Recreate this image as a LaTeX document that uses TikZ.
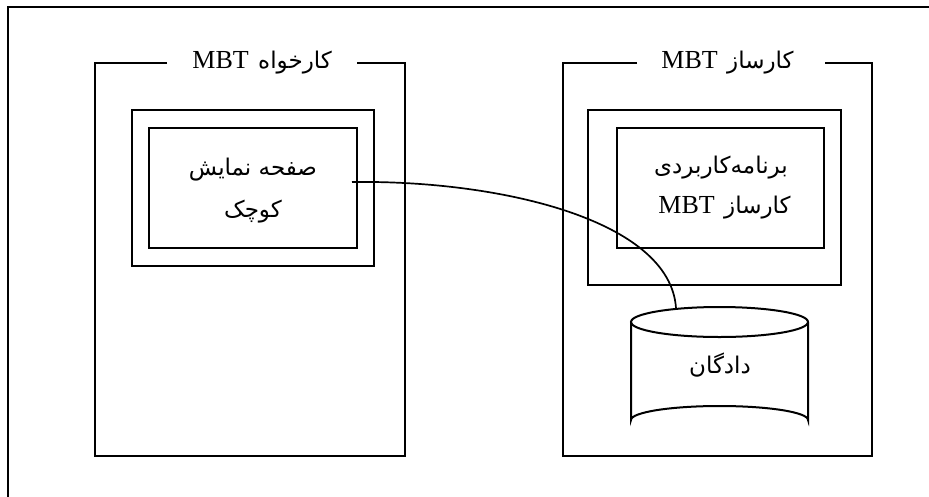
\documentclass[tikz,border=0pt]{standalone}
\usepackage{fontspec}
\setmainfont{Liberation Serif}
\newfontfamily\arabicfont[Script=Arabic]{DejaVu Sans}
\newfontfamily\latinfont{Liberation Serif}
\TeXXeTstate=1
\begin{document}
\begin{tikzpicture}[x=1pt,y=-1pt,
  frame/.style={line width=2.8pt},
  box/.style={draw,line width=2pt},
  fa/.style={inner sep=0pt,font=\arabicfont\fontsize{23}{27}\selectfont},
  en/.style={inner sep=0pt,font=\latinfont\fontsize{26}{26}\selectfont},
  conn/.style={line width=1.7pt}]
\useasboundingbox (0,0) rectangle (929,496);
% outer frame (cropped)
\draw[frame] (8,520) -- (8,7) -- (950,7);
% client
\draw[box] (167,63) -- (95,63) -- (95,456) -- (405,456) -- (405,63) -- (357,63);
\node[en,anchor=base east] (cmbt) at (249,68) {MBT};
\node[fa,anchor=base west] (ctitle) at (258,68) {\beginR کارخواه\endR};
\draw[box] (132,110) rectangle (374,266);
\draw[box] (149,128) rectangle (357,248);
\node[fa,anchor=base] (cl1) at (253,175) {\beginR صفحه نمایش\endR};
\node[fa,anchor=base] (cl2) at (253,217) {\beginR کوچک\endR};
% server
\draw[box] (637,63) -- (563,63) -- (563,456) -- (872,456) -- (872,63) -- (825,63);
\node[en,anchor=base east] (smbt) at (718,68) {MBT};
\node[fa,anchor=base west] (stitle) at (727,68) {\beginR کارساز\endR};
\draw[box] (588,110) rectangle (841,285);
\draw[box] (617,128) rectangle (824,248);
\node[fa,anchor=base] (sl1) at (721,173) {\beginR برنامه‌کاربردی\endR};
\node[en,anchor=base east] (slmbt) at (715,213) {MBT};
\node[fa,anchor=base west] (sl2) at (724,213) {\beginR کارساز\endR};
% database cylinder
\draw[box] (631,322) -- (631,420) arc[start angle=180,end angle=360,x radius=88.5,y radius=14] -- (808,322);
\draw[box] (719.5,322) ellipse[x radius=88.5,y radius=15];
\node[fa,anchor=base] (db) at (720,373) {\beginR دادگان\endR};
\coordinate (dbtop) at (676,308);
\coordinate (cstart) at (352,182);
\draw[conn] (cstart) .. controls (500,180) and (670,220) .. (dbtop);
\end{tikzpicture}
\end{document}
